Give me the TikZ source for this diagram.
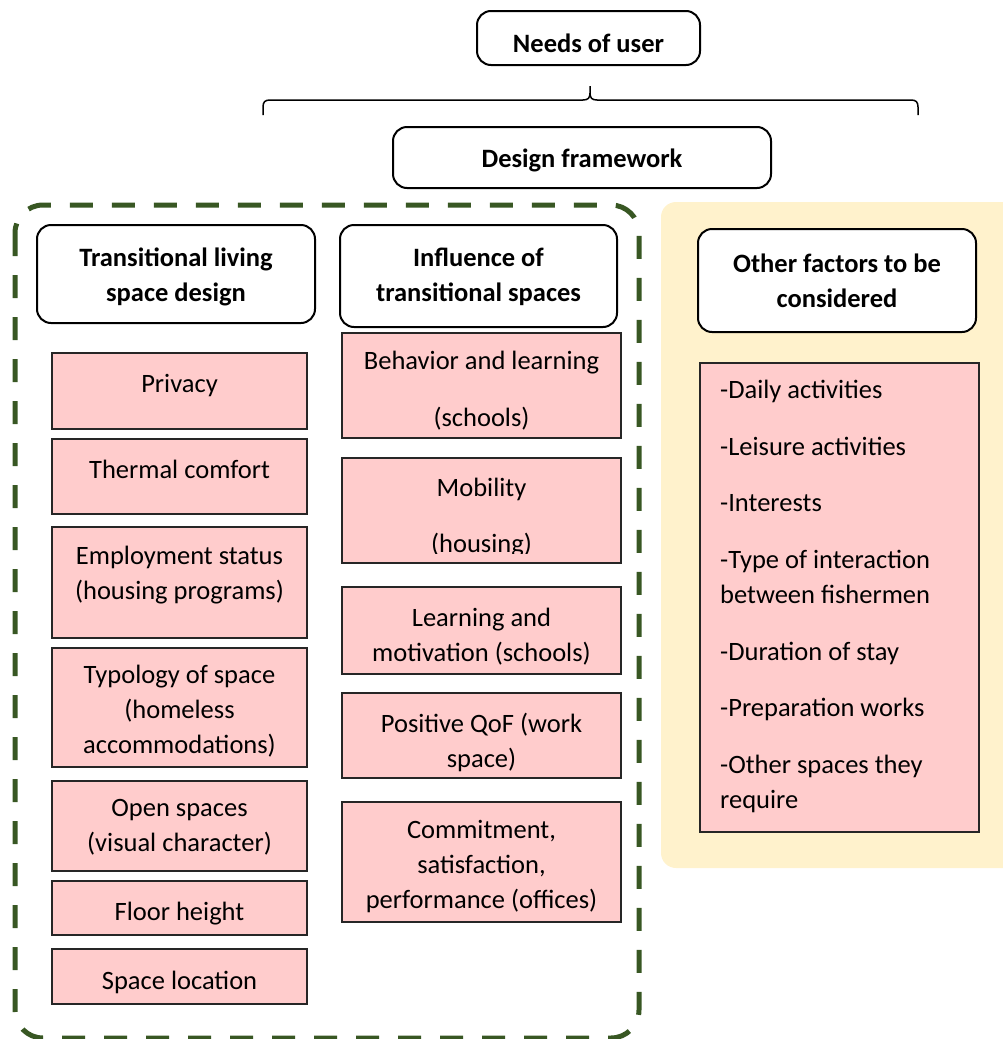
\documentclass[tikz,border=0pt]{standalone}
\usepackage{fontspec}
\setmainfont{Carlito}
\definecolor{pinkf}{HTML}{FFCCCC}
\definecolor{yellowbg}{HTML}{FFF2CC}
\definecolor{dgreen}{HTML}{385723}
\begin{document}
\begin{tikzpicture}[x=1pt,y=-1pt,
  txt/.style={inner sep=0pt, font=\fontsize{26.5}{35}\selectfont, align=center,
    execute at begin node=\strut, execute at end node=\strut},
  hd/.style={txt, font=\fontsize{26.5}{35}\selectfont\bfseries},
  pinkbox/.style={draw=black!85, line width=2pt, fill=pinkf, inner sep=0pt},
  headbox/.style={draw=black, line width=2pt, fill=white, rounded corners=14pt, inner sep=0pt},
  bracel/.style={draw=black, line width=1.5pt},
  greenframe/.style={draw=dgreen, line width=5pt, dash pattern=on 23pt off 19pt, rounded corners=28pt},
]
\useasboundingbox (0,0) rectangle (1003,1039);
\begin{scope}
\clip (0,0) rectangle (1003,1039);
% backgrounds
\fill[yellowbg, rounded corners=15pt] (661,202) rectangle (1030,868);
\draw[greenframe] (15,205) rectangle (639,1038);
\end{scope}

% top
\node[headbox, minimum width=223pt, minimum height=54pt] (needs) at (588.5,38) {};
\node[hd] (needs-t) at (588.5,45) {Needs of user};
\draw[bracel] (263,115) -- (263,107) .. controls (263,102) and (265,100) .. (270,100) -- (583,100) .. controls (588,100) and (590,98) .. (590,93) -- (590,86);
\draw[bracel] (590,93) .. controls (590,98) and (592,100) .. (597,100) -- (911,100) .. controls (916,100) and (918,102) .. (918,107) -- (918,115);
\node[headbox, minimum width=378pt, minimum height=61pt] (frame) at (582,157.5) {};
\node[hd] (frame-t) at (582,160) {Design framework};

% headers
\node[headbox, minimum width=278pt, minimum height=98pt] (h1) at (176,274) {};
\node[hd] (h1-t) at (176,280) {Transitional living\\space design};
\node[headbox, minimum width=277pt, minimum height=102pt] (h2) at (478.5,276) {};
\node[hd] (h2-t) at (478.5,280.5) {Influence of\\transitional spaces};
\node[headbox, minimum width=278pt, minimum height=103pt] (h3) at (837,280.5) {};
\node[hd] (h3-t) at (837,285.5) {Other factors to be\\considered};

% left column
\node[pinkbox, minimum width=255pt, minimum height=76pt] (l1) at (179.5,391) {};
\node[txt] (l1-t) at (179.5,385.5) {Privacy};
\node[pinkbox, minimum width=255pt, minimum height=75pt] (l2) at (179.5,476.5) {};
\node[txt] (l2-t) at (179.5,471.5) {Thermal comfort};
\node[pinkbox, minimum width=255pt, minimum height=111pt] (l3) at (179.5,582.5) {};
\node[txt] (l3-t) at (179.5,578) {Employment status\\(housing programs)};
\node[pinkbox, minimum width=255pt, minimum height=119pt] (l4) at (179.5,707.5) {};
\node[txt] (l4-t) at (179.5,714.5) {Typology of space\\(homeless\\accommodations)};
\node[pinkbox, minimum width=255pt, minimum height=90pt] (l5) at (179.5,826) {};
\node[txt] (l5-t) at (179.5,831) {Open spaces\\(visual character)};
\node[pinkbox, minimum width=255pt, minimum height=54pt] (l6) at (179.5,908) {};
\node[txt] (l6-t) at (179.5,913) {Floor height};
\node[pinkbox, minimum width=255pt, minimum height=55pt] (l7) at (179.5,976.5) {};
\node[txt] (l7-t) at (179.5,982) {Space location};

% middle column
\node[pinkbox, minimum width=279pt, minimum height=105pt] (m1) at (481.5,385.5) {};
\node[txt] (m1-t) at (481.5,394.5) {Behavior and learning\\[22pt](schools)};
\node[pinkbox, minimum width=279pt, minimum height=105pt] (m2) at (481.5,510.5) {};
\begin{scope}
\clip (342,458) rectangle (621,553);
\node[txt] (m2-t) at (481.5,521) {Mobility\\[21pt](housing)};
\end{scope}
\node[pinkbox, minimum width=279pt, minimum height=87pt] (m3) at (481.5,630.5) {};
\node[txt] (m3-t) at (481.5,640) {Learning and\\motivation (schools)};
\node[pinkbox, minimum width=279pt, minimum height=85pt] (m4) at (481.5,735.5) {};
\node[txt] (m4-t) at (481.5,745.5) {Positive QoF (work\\space)};
\node[pinkbox, minimum width=279pt, minimum height=120pt] (m5) at (481.5,862) {};
\node[txt] (m5-t) at (481.5,870) {Commitment,\\satisfaction,\\performance (offices)};

% right column
\node[pinkbox, minimum width=279pt, minimum height=469pt] (r1) at (839.5,597.5) {};
\node[txt, align=left, anchor=west] (r1-t) at (720,599.5) {-Daily activities\\[22pt]-Leisure activities\\[21pt]-Interests\\[22pt]-Type of interaction\\between fishermen\\[22pt]-Duration of stay\\[21pt]-Preparation works\\[22pt]-Other spaces they\\require};
\end{tikzpicture}
\end{document}
